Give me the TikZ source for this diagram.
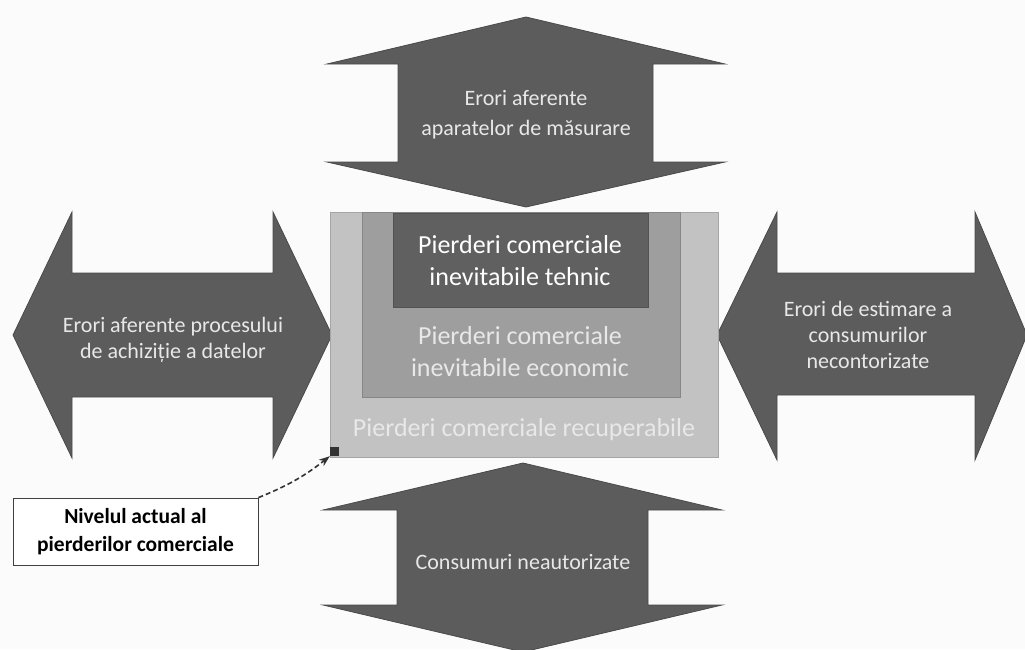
\documentclass[tikz,border=0pt]{standalone}
\usepackage{fontspec}
\setmainfont{Carlito}
\usepackage{tikz}
\usetikzlibrary{arrows.meta}
\definecolor{arrgray}{RGB}{92,92,92}
\definecolor{outergray}{RGB}{194,194,194}
\definecolor{midgray}{RGB}{158,158,158}
\definecolor{innergray}{RGB}{96,96,96}
\definecolor{paletxt}{RGB}{232,232,232}
\newcommand{\arrtxt}{\fontsize{22}{26}\selectfont}
\newcommand{\boxtxt}{\fontsize{26}{32}\selectfont}

\begin{document}
\begin{tikzpicture}[x=1pt,y=-1pt,
  bigarrow/.style={fill=arrgray, draw=arrgray!80!black, line width=0.8pt},
  arrlabel/.style={align=center, text=paletxt, font=\arrtxt},
  boxlabel/.style={align=center, text=paletxt, font=\boxtxt},
  layer/.style={line width=1pt}]
\useasboundingbox (0,0) rectangle (1025,649);
\fill[gray!3] (0,0) rectangle (1025,649);

% the four double arrows
\draw[bigarrow] (526,17) -- (725,64) -- (653,64) -- (653,162) -- (725,162) -- (526,207)
  -- (327,162) -- (398,162) -- (398,64) -- (327,64) -- cycle;
\draw[bigarrow] (523,463) -- (722,510) -- (648,510) -- (648,605) -- (722,605) -- (523,652)
  -- (323,605) -- (397,605) -- (397,510) -- (323,510) -- cycle;
\draw[bigarrow] (13,335) -- (72,212) -- (72,273) -- (273,273) -- (273,212) -- (332,335)
  -- (273,458) -- (273,397) -- (72,397) -- (72,458) -- cycle;
\draw[bigarrow] (717,335) -- (777,212) -- (777,273) -- (975,273) -- (975,212) -- (1027,335)
  -- (975,460) -- (975,395) -- (777,395) -- (777,460) -- cycle;

\node[arrlabel, font=\fontsize{22}{30}\selectfont] (masurare) at (526,115) {Erori aferente\\aparatelor de măsurare};
\node[arrlabel] (achizitie) at (173,340) {Erori aferente procesului\\de achiziție a datelor};
\node[arrlabel] (estimare) at (868,335) {Erori de estimare a\\consumurilor\\necontorizate};
\node[arrlabel] (neautorizate) at (523,562) {Consumuri neautorizate};

% nested loss levels
\draw[layer, fill=outergray, draw=outergray!85!black] (330,212) rectangle (718,457);
\draw[layer, fill=midgray, draw=midgray!85!black] (362,212) rectangle (680,397);
\draw[layer, fill=innergray, draw=innergray!85!black] (393,213) rectangle (648,307);

\node[boxlabel, text=white] (tehnic) at (520,261) {Pierderi comerciale\\inevitabile tehnic};
\node[boxlabel] (economic) at (520,352) {Pierderi comerciale\\inevitabile economic};
\node[boxlabel] (recuperabile) at (524,430) {Pierderi comerciale recuperabile};

% current level marker
\node[fill=black!80, minimum size=9pt, inner sep=0pt] (nivelmark) at (334.5,451.5) {};
\node[draw=black!75, fill=white, line width=0.8pt, minimum width=245pt, minimum height=67pt,
  align=center, font=\bfseries\fontsize{21.5}{28}\selectfont] (nivel) at (135.5,531.5)
  {Nivelul actual al\\pierderilor comerciale};
\draw[black!80, line width=1.6pt, dash pattern=on 5pt off 3pt, -{Stealth[length=11pt,width=8pt]}]
  (nivel.north east) to[bend right=8] (nivelmark.south west);
\end{tikzpicture}
\end{document}
